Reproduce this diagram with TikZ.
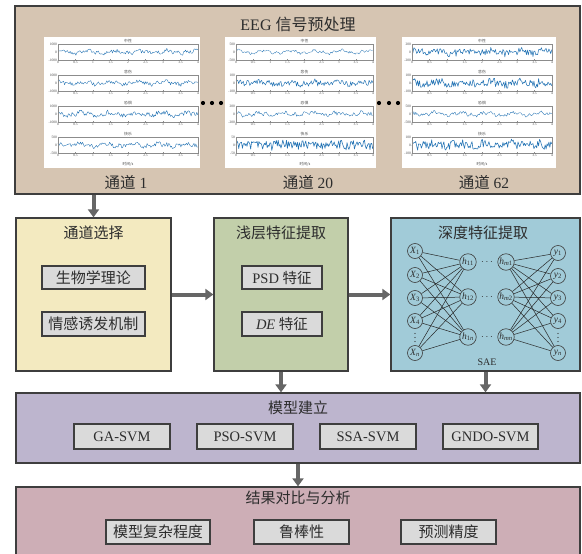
\documentclass[tikz,border=0pt]{standalone}
\usepackage{fontspec}
\setmainfont{Liberation Serif}
\newfontfamily\cjk{Noto Sans CJK SC}
\usetikzlibrary{arrows.meta,calc}
\definecolor{topc}{RGB}{214,197,178}
\definecolor{selc}{RGB}{243,234,192}
\definecolor{shalc}{RGB}{194,207,170}
\definecolor{deepc}{RGB}{161,203,216}
\definecolor{modc}{RGB}{189,181,206}
\definecolor{resc}{RGB}{205,174,182}
\definecolor{subc}{RGB}{218,218,218}
\definecolor{edgec}{RGB}{62,62,62}
\definecolor{txtc}{RGB}{45,45,45}
\definecolor{eegc}{RGB}{35,115,180}
\tikzset{
  bigbox/.style={draw=edgec, line width=1.3pt, inner sep=0pt},
  subbox/.style={draw=edgec, line width=1.2pt, fill=subc, inner sep=0pt, text=txtc},
  ttl/.style={font=\cjk\fontsize{15}{18}\selectfont, text=txtc, inner sep=0pt},
  cjkt/.style={font=\cjk\fontsize{15}{18}\selectfont},
  latt/.style={font=\fontsize{14.5}{17}\selectfont},
  bigarr/.style={line width=4pt, draw=black!60, -{Triangle[length=8pt,width=11pt]}},
  neur/.style={circle, draw=edgec, line width=0.6pt, fill=deepc, minimum size=15pt, inner sep=0pt, font=\fontsize{9.5}{10}\selectfont, text=txtc},
  hneur/.style={neur, minimum size=16.5pt},
  nnline/.style={draw=black!85, line width=0.5pt},
  axln/.style={draw=black!45, line width=0.25pt},
  tick/.style={font=\fontsize{3.6}{4}\selectfont, text=black!70, inner sep=0.3pt},
  ctick/.style={font=\cjk\fontsize{3.8}{4}\selectfont, text=black!70, inner sep=0.3pt},
  cdt/.style={text=txtc, inner sep=0pt, font=\fontsize{10}{10}\selectfont},
}
\newcommand{\nl}[2]{\textit{#1}\textsubscript{#2}}
% #1 x0, #2 x1, #3 ytop, #4 ybot, #5 tick, #6 title, #7 noise, #8 seed
\newcommand{\eegsub}[8]{%
  \pgfmathsetseed{#8}%
  \pgfmathsetmacro\ym{(#3+#4)/2}%
  \pgfmathsetmacro\yh{(#4-#3)/2}%
  \pgfmathsetmacro\lw{0.2+0.7*#7}%
  \draw[eegc, line width=\lw pt, line join=round] plot[domain=0:1, samples=150, variable=\t]
     ({#1+\t*(#2-#1)}, {\ym - \yh*(0.15*sin(\t*1900+#8*37)+0.1*sin(\t*5200)+#7*rand)});
  \draw[axln] (#1,#3) rectangle (#2,#4);
  \foreach \k/\lab in {0/0,1/0.5,2/1,3/1.5,4/2,5/2.5,6/3,7/3.5,8/4}{
    \draw[axln] ({#1+\k*(#2-#1)/8},#4) -- ++(0,-1);
    \node[tick, anchor=north] at ({#1+\k*(#2-#1)/8},{#4+0.6}) {\lab};
  }
  \node[tick, anchor=east] at ({#1-0.5},#3) {#5};
  \node[tick, anchor=east] at ({#1-0.5},\ym) {0};
  \node[tick, anchor=east] at ({#1-0.5},#4) {-#5};
  \node[ctick, anchor=south] at ({(#1+#2)/2},{#3-0.3}) {#6};
}
\begin{document}
\begin{tikzpicture}[x=1pt, y=-1pt]
\useasboundingbox (0,0) rectangle (582,554);
\fill[white] (0,0) rectangle (582,554);

% ---------- big boxes ----------
\node[bigbox, fill=topc, minimum width=565pt, minimum height=188pt] (top) at (297.5,100) {};
\node[bigbox, fill=selc, minimum width=155pt, minimum height=153pt] (sel) at (93.5,294.5) {};
\node[bigbox, fill=shalc, minimum width=134pt, minimum height=153pt] (shal) at (281,294.5) {};
\node[bigbox, fill=deepc, minimum width=189pt, minimum height=153pt] (deep) at (485.5,294.5) {};
\node[bigbox, fill=modc, minimum width=564pt, minimum height=70pt] (model) at (298,428) {};
\node[bigbox, fill=resc, minimum width=564pt, minimum height=76pt] (res) at (298,525) {};

% ---------- top box content ----------
\node[ttl, font=\fontsize{16}{18}\selectfont] (ttop) at (298,24) {EEG {\cjk 信号预处理}};
\node[ttl, font=\fontsize{15.5}{18}\selectfont] (ch1) at (126,183) {{\cjk 通道} 1};
\node[ttl, font=\fontsize{15.5}{18}\selectfont] (ch20) at (308,183) {{\cjk 通道} 20};
\node[ttl, font=\fontsize{15.5}{18}\selectfont] (ch62) at (484,183) {{\cjk 通道} 62};

\fill[white] (44,37) rectangle (200,168);
\fill[white] (225,37) rectangle (376,168);
\fill[white] (402,37) rectangle (556,168);

% panel 1
\eegsub{58}{198}{44}{60}{1000}{中性}{0.22}{11}
\eegsub{58}{198}{75}{91}{1000}{悲伤}{0.22}{12}
\eegsub{58}{198}{106}{122}{1000}{恐惧}{0.28}{13}
\eegsub{58}{198}{137}{153}{500}{快乐}{0.25}{14}
\node[ctick] (xl1) at (128,164) {时间/s};
% panel 2
\eegsub{236}{373}{44}{60}{500}{中性}{0.15}{21}
\eegsub{236}{373}{75}{91}{100}{悲伤}{0.4}{22}
\eegsub{236}{373}{106}{122}{200}{恐惧}{0.22}{23}
\eegsub{236}{373}{137}{153}{50}{快乐}{0.55}{24}
\node[ctick] (xl2) at (305,164) {时间/s};
% panel 3
\eegsub{412}{552}{44}{60}{200}{中性}{0.45}{31}
\eegsub{412}{552}{75}{91}{100}{悲伤}{0.5}{32}
\eegsub{412}{552}{106}{122}{500}{恐惧}{0.2}{33}
\eegsub{412}{552}{137}{153}{100}{快乐}{0.5}{34}
\node[ctick] (xl3) at (482,164) {时间/s};

% dots between panels
\foreach \x in {203,212,221,379,389,398} \fill[black] (\x,103) circle (2.1pt);

% ---------- channel selection ----------
\node[ttl] (tsel) at (93.5,233) {通道选择};
\node[subbox, cjkt, minimum width=103pt, minimum height=23pt] (bio) at (93.5,277.5) {生物学理论};
\node[subbox, cjkt, minimum width=103pt, minimum height=24pt] (emo) at (93.5,324) {情感诱发机制};

% ---------- shallow features ----------
\node[ttl] (tshal) at (281,233) {浅层特征提取};
\node[subbox, latt, minimum width=80pt, minimum height=23pt] (psd) at (282,277.5) {PSD {\cjk 特征}};
\node[subbox, latt, minimum width=80pt, minimum height=24pt] (de) at (282,324) {\textit{DE} {\cjk 特征}};

% ---------- deep features ----------
\node[ttl] (tdeep) at (483,233) {深度特征提取};
\node[neur] (X1) at (415,251) {\nl{X}{1}};
\node[neur] (X2) at (415,275) {\nl{X}{2}};
\node[neur] (X3) at (415,298) {\nl{X}{3}};
\node[neur] (X4) at (415,321) {\nl{X}{4}};
\node[neur] (Xn) at (415,353) {\nl{X}{\textit{n}}};
\node[hneur] (h11) at (468,262) {\nl{h}{11}};
\node[hneur] (h12) at (468,297) {\nl{h}{12}};
\node[hneur] (h1n) at (468,337) {\nl{h}{1\textit{n}}};
\node[hneur] (hm1) at (506,262) {\nl{h}{\textit{m}1}};
\node[hneur] (hm2) at (506,297) {\nl{h}{\textit{m}2}};
\node[hneur] (hmn) at (506,337) {\nl{h}{\textit{mn}}};
\node[neur] (y1) at (558,253) {\nl{y}{1}};
\node[neur] (y2) at (558,276) {\nl{y}{2}};
\node[neur] (y3) at (558,298) {\nl{y}{3}};
\node[neur] (y4) at (558,321) {\nl{y}{4}};
\node[neur] (yn) at (558,353) {\nl{y}{\textit{n}}};
\foreach \a in {X1,X2,X3,X4,Xn}
  \foreach \b in {h11,h12,h1n}
    \draw[nnline] (\a) -- (\b);
\foreach \a in {hm1,hm2,hmn}
  \foreach \b in {y1,y2,y3,y4,yn}
    \draw[nnline] (\a) -- (\b);
\foreach \a/\b in {h11/hm1,h12/hm2,h1n/hmn}
  \node[cdt] (d\a) at ($(\a)!0.5!(\b)$) {$\cdots$};
\foreach \x in {415,558}
  \foreach \y in {333.5,337.5,341.5}
    \fill[txtc] (\x,\y) circle (0.6pt);
\node[text=txtc, font=\fontsize{10}{12}\selectfont] (sae) at (487,362) {SAE};

% ---------- model ----------
\node[ttl] (tmod) at (298,408) {模型建立};
\node[subbox, latt, minimum width=96pt, minimum height=25pt] (ga) at (122,436.5) {GA-SVM};
\node[subbox, latt, minimum width=96pt, minimum height=25pt] (pso) at (245,436.5) {PSO-SVM};
\node[subbox, latt, minimum width=96pt, minimum height=25pt] (ssa) at (368,436.5) {SSA-SVM};
\node[subbox, latt, minimum width=95pt, minimum height=25pt] (gndo) at (490.5,436.5) {GNDO-SVM};

% ---------- results ----------
\node[ttl] (tres) at (298,498) {结果对比与分析};
\node[subbox, cjkt, minimum width=104pt, minimum height=24pt] (cplx) at (158,532) {模型复杂程度};
\node[subbox, cjkt, minimum width=95pt, minimum height=24pt] (rob) at (301.5,532) {鲁棒性};
\node[subbox, cjkt, minimum width=95pt, minimum height=24pt] (acc) at (448.5,532) {预测精度};

% ---------- arrows ----------
\draw[bigarr] (top.south -| sel.north) -- (sel.north);
\draw[bigarr] (sel.east) -- (shal.west);
\draw[bigarr] (shal.east) -- (deep.west);
\draw[bigarr] (shal.south) -- (shal.south |- model.north);
\draw[bigarr] (deep.south) -- (deep.south |- model.north);
\draw[bigarr] (model.south) -- (res.north);
\end{tikzpicture}
\end{document}
